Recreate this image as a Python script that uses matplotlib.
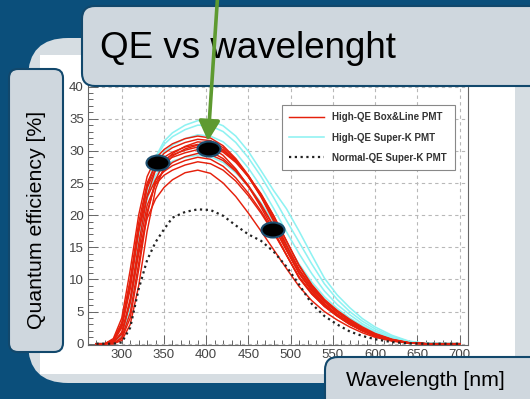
import matplotlib
matplotlib.use("Agg")
import matplotlib.pyplot as plt
from matplotlib.patches import FancyBboxPatch, Ellipse, Rectangle
from matplotlib.ticker import MultipleLocator

plt.rcParams['font.family'] = ['Liberation Sans', 'DejaVu Sans']

# wavelength grid [nm]
wl = [270, 280, 290, 300, 310, 320, 330, 340, 350, 360, 375, 390, 405, 420, 435,
      450, 465, 480, 495, 510, 525, 540, 555, 570, 585, 600, 620, 640, 660, 700]

# High-QE Box&Line PMTs [%]
red_1 = [0, 0, 0.8, 4.0, 11.5, 20.0, 26.0, 28.8, 30.2, 31.1, 31.9, 32.3, 32.0, 30.8, 28.8,
         26.2, 23.0, 19.3, 15.2, 11.4, 8.6, 6.5, 4.9, 3.5, 2.3, 1.4, 0.6, 0.15, 0, 0]
red_2 = [0, 0, 0.3, 2.5, 8.5, 17.5, 24.5, 28.0, 29.6, 30.5, 31.3, 31.8, 31.6, 30.5, 28.6,
         26.0, 22.8, 19.0, 14.8, 11.0, 8.3, 6.2, 4.6, 3.3, 2.2, 1.3, 0.55, 0.12, 0, 0]
red_3 = [0, 0, 0, 0.8, 4.0, 11.5, 20.0, 25.5, 28.2, 29.6, 30.7, 31.4, 31.2, 30.2, 28.4,
         25.9, 22.9, 19.4, 15.4, 11.6, 8.8, 6.6, 5.0, 3.6, 2.4, 1.5, 0.65, 0.15, 0, 0]
red_4 = [0, 0, 0.6, 3.3, 10.0, 18.8, 25.0, 27.8, 29.0, 29.8, 30.6, 31.0, 30.6, 29.3, 27.2,
         24.5, 21.2, 17.6, 13.8, 10.2, 7.7, 5.8, 4.3, 3.0, 2.0, 1.2, 0.5, 0.1, 0, 0]
red_5 = [0, 0, 0.2, 1.8, 7.0, 15.5, 23.0, 27.0, 28.6, 29.4, 30.1, 30.6, 30.5, 29.8, 28.2,
         26.0, 23.2, 19.8, 16.0, 12.2, 9.2, 6.9, 5.2, 3.8, 2.6, 1.6, 0.7, 0.18, 0, 0]
red_6 = [0, 0, 0.4, 2.8, 9.2, 17.8, 24.2, 27.2, 28.3, 29.0, 29.7, 30.2, 29.9, 28.8, 27.0,
         24.6, 21.7, 18.3, 14.6, 11.0, 8.3, 6.2, 4.6, 3.3, 2.1, 1.25, 0.5, 0.1, 0, 0]
red_7 = [0, 0, 0, 1.0, 4.8, 12.5, 20.5, 25.0, 27.0, 28.2, 29.1, 29.6, 29.4, 28.5, 26.8,
         24.4, 21.5, 18.2, 14.5, 10.9, 8.2, 6.1, 4.5, 3.2, 2.1, 1.25, 0.5, 0.1, 0, 0]
red_8 = [0, 0, 0.5, 3.0, 9.5, 17.5, 22.8, 25.5, 26.8, 27.7, 28.5, 29.0, 28.7, 27.6, 25.8,
         23.4, 20.6, 17.4, 13.8, 10.3, 7.8, 5.8, 4.3, 3.0, 2.0, 1.2, 0.5, 0.1, 0, 0]
red_9 = [0, 0, 0.2, 1.5, 6.5, 14.5, 21.5, 24.8, 26.2, 27.0, 27.8, 28.3, 28.0, 27.0, 25.3,
         23.0, 20.3, 17.2, 13.8, 10.4, 7.9, 5.9, 4.4, 3.1, 2.0, 1.2, 0.5, 0.1, 0, 0]
red_10 = [0, 0, 0.3, 1.5, 6.5, 14.0, 19.5, 22.5, 24.3, 25.5, 26.6, 27.0, 26.5, 25.0, 22.9,
          20.3, 17.5, 14.6, 11.7, 8.9, 6.7, 5.0, 3.7, 2.6, 1.7, 1.0, 0.4, 0.08, 0, 0]
red_11 = [0, 0, 0, 0.5, 3.0, 9.0, 17.5, 24.0, 27.5, 29.2, 30.3, 30.9, 30.8, 30.0, 28.4,
          26.1, 23.3, 19.9, 16.0, 12.1, 9.0, 6.7, 5.0, 3.6, 2.4, 1.5, 0.6, 0.14, 0, 0]

# High-QE Super-K PMTs [%]
cyan_1 = [0, 0, 0, 1.0, 6.0, 15.5, 24.0, 29.0, 31.5, 32.8, 34.0, 34.7, 34.7, 33.9, 32.3,
          29.9, 26.9, 23.8, 21.0, 17.5, 13.8, 10.2, 7.6, 5.6, 3.9, 2.6, 1.3, 0.4, 0.05, 0]
cyan_2 = [0, 0, 0, 1.2, 6.5, 16.0, 24.2, 28.8, 31.0, 32.2, 33.3, 34.0, 33.9, 33.0, 31.3,
          28.9, 26.0, 22.7, 19.2, 15.8, 12.4, 9.3, 6.9, 5.0, 3.5, 2.3, 1.1, 0.35, 0.05, 0]
cyan_3 = [0, 0, 0, 0.9, 5.5, 14.8, 23.0, 27.6, 29.8, 30.9, 31.9, 32.5, 32.3, 31.4, 29.7,
          27.3, 24.4, 21.0, 17.4, 14.0, 10.9, 8.2, 6.1, 4.5, 3.1, 2.0, 0.95, 0.3, 0.03, 0]
cyan_4 = [0, 0, 0, 1.0, 5.8, 15.0, 22.5, 26.2, 27.6, 28.4, 29.0, 29.3, 29.1, 28.2, 26.6,
          24.5, 21.9, 18.9, 15.6, 12.4, 9.6, 7.3, 5.5, 4.0, 2.8, 1.8, 0.85, 0.25, 0.02, 0]

# Normal-QE Super-K PMT [%]
normal_qe = [0, 0, 0, 0.2, 2.5, 8.5, 13.0, 15.8, 17.8, 19.6, 20.5, 20.9, 20.8, 19.9, 18.4,
             17.0, 16.0, 14.3, 12.0, 9.2, 6.2, 4.3, 3.0, 1.9, 1.2, 0.7, 0.25, 0.05, 0, 0]

reds = [red_1, red_2, red_3, red_4, red_5, red_6, red_7, red_8, red_9, red_10, red_11]
cyans = [cyan_1, cyan_2, cyan_3, cyan_4]

W, H = 530, 399
fig = plt.figure(figsize=(W / 100, H / 100), dpi=100)
fig.patch.set_facecolor('#0b4f7b')

# slide background: grey panel + white picture
bg = fig.add_axes([0, 0, 1, 1], zorder=0)
bg.set_xlim(0, W)
bg.set_ylim(H, 0)
bg.axis('off')
bg.add_patch(FancyBboxPatch((28, 38), 520, 345, boxstyle='round,pad=0,rounding_size=40',
                            fc='#d6dde2', ec='none'))
bg.add_patch(Rectangle((40, 55), 475, 319, fc='white', ec='none'))

# the chart
ax = fig.add_axes([88 / W, 1 - 345 / H, 380 / W, 261 / H], zorder=1)
ax.set_facecolor('white')
ax.grid(True, color='#b8b8b8', linestyle=(0, (3, 3)), linewidth=0.8)
ax.set_axisbelow(True)

for i, r in enumerate(reds):
    ax.plot(wl, r, color='#e5200c', lw=1.05, zorder=3,
            label='High-QE Box&Line PMT' if i == 0 else None)
for i, c in enumerate(cyans):
    ax.plot(wl, c, color='#8ef2f2', lw=1.15, zorder=2.5,
            label='High-QE Super-K PMT' if i == 0 else None)
ax.plot(wl, normal_qe, color='#222222', lw=1.6, linestyle=(0, (1, 1.6)), zorder=4,
        label='Normal-QE Super-K PMT')

ax.set_xlim(260, 710)
ax.set_ylim(-0.2, 40.4)
ax.xaxis.set_major_locator(MultipleLocator(50))
ax.xaxis.set_minor_locator(MultipleLocator(10))
ax.yaxis.set_major_locator(MultipleLocator(5))
ax.yaxis.set_minor_locator(MultipleLocator(1))
ax.set_xticks([300, 350, 400, 450, 500, 550, 600, 650, 700])
ax.tick_params(which='both', direction='in', colors='#666666', labelcolor='#444444',
               labelsize=9.5, width=0.7)
ax.tick_params(which='major', length=7, pad=3)
ax.tick_params(which='minor', length=3.5)
for s in ax.spines.values():
    s.set_color('#666666')
    s.set_linewidth(0.8)

leg = ax.legend(loc='upper right', bbox_to_anchor=(0.978, 0.94), fancybox=False,
                framealpha=1, edgecolor='#888888', handlelength=3.5, handletextpad=0.9,
                labelspacing=1.05, borderpad=0.8, prop={'size': 7, 'weight': 'bold'})
leg.get_frame().set_linewidth(0.8)
for t in leg.get_texts():
    t.set_color('#333333')

# slide overlays
ov = fig.add_axes([0, 0, 1, 1], zorder=5)
ov.set_xlim(0, W)
ov.set_ylim(H, 0)
ov.axis('off')
ov.patch.set_alpha(0)

box_fc = '#cfd7de'
box_ec = '#12486c'
ov.add_patch(FancyBboxPatch((82, 6), 470, 80, boxstyle='round,pad=0,rounding_size=13',
                            fc=box_fc, ec=box_ec, lw=1.5))
ov.add_patch(FancyBboxPatch((9, 69), 54, 283, boxstyle='round,pad=0,rounding_size=9',
                            fc=box_fc, ec=box_ec, lw=1.5))
ov.add_patch(FancyBboxPatch((325, 357), 230, 60, boxstyle='round,pad=0,rounding_size=13',
                            fc=box_fc, ec=box_ec, lw=1.5))

ov.text(100, 49, 'QE vs wavelenght', fontsize=26.5, color='black', ha='left', va='center')
ov.text(37, 220, 'Quantum efficiency [%]', fontsize=15.3, rotation=90,
        ha='center', va='center', color='black')
ov.text(425, 381, 'Wavelength [nm]', fontsize=15.3, ha='center', va='center', color='black')

ov.annotate('', xy=(208, 141), xytext=(217.5, -2),
            arrowprops=dict(arrowstyle='-|>,head_length=0.6,head_width=0.32',
                            color='#5e9a30', lw=2.6, mutation_scale=20, shrinkA=0, shrinkB=0))

for cx, cy in [(158, 163), (209, 149), (273, 230)]:
    ov.add_patch(Ellipse((cx, cy), 23, 15, fc='black', ec='#1d4f70', lw=1.5))

fig.savefig('out.png', dpi=100, facecolor=fig.get_facecolor())
